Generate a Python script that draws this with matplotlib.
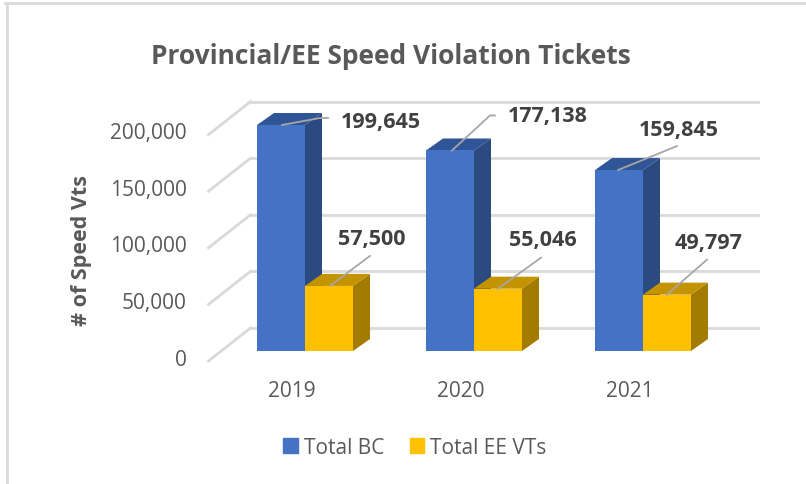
import matplotlib
matplotlib.use('Agg')
import matplotlib.pyplot as plt
from matplotlib.patches import Polygon, Patch
from matplotlib.lines import Line2D

plt.rcParams['font.family'] = ['Open Sans', 'DejaVu Sans']

# data
years = ['2019', '2020', '2021']
total_bc = [199645, 177138, 159845]
total_ee = [57500, 55046, 49797]
series_names = ['Total BC', 'Total EE VTs']
yticks = [0, 50000, 100000, 150000, 200000]

# style
blue = ('#4472C4', '#2F5597', '#2B4A7F')     # front, top, side
gold = ('#FFC000', '#C49300', '#A37B00')
grid_c = '#D9D9D9'
txt_c = '#595959'
lbl_c = '#404040'

W, H = 806, 485
PX_X = 169.0               # pixels per category
PX_Y = 226.4 / 200000.0    # pixels per value unit
x0, y0 = 305, H - 352      # where category 0 / value 0 sits on the bar front plane

fig = plt.figure(figsize=(W / 100, H / 100), dpi=100)
ax = fig.add_axes([0, 0, 1, 1])
ax.set_xlim(-x0 / PX_X, (W - x0) / PX_X)
ax.set_ylim(-y0 / PX_Y, (H - y0) / PX_Y)
ax.axis('off')

def off(dx, dy):
    return dx / PX_X, dy / PX_Y

# back wall + floor/side diagonals
bx, by = off(30, 23)
fx, fy = off(-12, -10)
for t in yticks:
    ax.plot([-0.5 + bx, 2.5 + bx], [t + by, t + by], color=grid_c, lw=2, zorder=1)
    ax.plot([-0.5 + fx, -0.5 + bx], [t + fy, t + by], color=grid_c, lw=2, zorder=1)
    ax.text(-0.5 + fx - 22 / PX_X, t + fy + 2 / PX_Y, f'{t:,}', ha='right', va='center',
            fontsize=15, color=txt_c)

# 3d bars
w = 0.284
ddx, ddy = off(17, 12)

def bar3d(x, v, cols):
    front, top, side = cols
    ax.add_patch(Polygon([(x + w, 0), (x + w + ddx, ddy), (x + w + ddx, v + ddy), (x + w, v)],
                         closed=True, fc=side, ec='none', zorder=2))
    ax.add_patch(Polygon([(x, v), (x + w, v), (x + w + ddx, v + ddy), (x + ddx, v + ddy)],
                         closed=True, fc=top, ec='none', zorder=2))
    ax.bar(x, v, width=w, align='edge', color=front, zorder=3)

for i in range(len(years)):
    bar3d(i - w, total_bc[i], blue)
    bar3d(i, total_ee[i], gold)
    ax.text(i - 13 / PX_X, -40 / PX_Y, years[i], ha='center', va='center', fontsize=15, color=txt_c)

# data labels with leader lines (all in pixels: anchor x from group centre,
# leader points and text centre relative to the anchor on the bar top)
leaders = [
    (-23, [(38, 7), (46, 7)], (99, 4)),
    (25, [(40, 30)], (42, 47)),
    (-22, [(38, 35), (43, 35)], (96, 35)),
    (24, [(43, 31)], (45, 49)),
    (-25, [(59, 24)], (61, 41)),
    (24, [(40, 35)], (42, 52)),
]
vals = []
for i in range(len(years)):
    vals.append((i, total_bc[i]))
    vals.append((i, total_ee[i]))
for (i, v), (adx, pts, tc) in zip(vals, leaders):
    ax0 = i + adx / PX_X
    xs = [ax0] + [ax0 + p[0] / PX_X for p in pts]
    ys = [v] + [v + p[1] / PX_Y for p in pts]
    ax.plot(xs, ys, color='#A6A6A6', lw=1.3, zorder=4)
    ax.text(ax0 + tc[0] / PX_X, v + tc[1] / PX_Y, f'{v:,}', ha='center', va='center',
            fontsize=15.5, fontweight='bold', color=lbl_c, zorder=5)

# title, axis title
fig.text(391 / W, 1 - 57 / H, 'Provincial/EE Speed Violation Tickets', ha='center', va='center',
         fontsize=19, fontweight='bold', color=txt_c)
fig.text(82 / W, 1 - 251 / H, '# of Speed Vts', ha='center', va='center', rotation=90,
         fontsize=15.5, fontweight='bold', color=txt_c)

# legend
handles = [Patch(color=blue[0]), Patch(color=gold[0])]
fig.legend(handles, series_names, loc='center', bbox_to_anchor=(415 / W, 1 - 448 / H),
           ncol=2, frameon=False, fontsize=15, handlelength=0.7, handleheight=0.7,
           handletextpad=0.3, columnspacing=1.2, labelcolor=txt_c)

# outer frame (top and left edges visible)
fig.add_artist(Line2D([5 / W, 1], [1 - 4 / H, 1 - 4 / H], color=grid_c, lw=2))
fig.add_artist(Line2D([7 / W, 7 / W], [1 - 4 / H, 0], color=grid_c, lw=2))

fig.savefig('out.png', dpi=100)
